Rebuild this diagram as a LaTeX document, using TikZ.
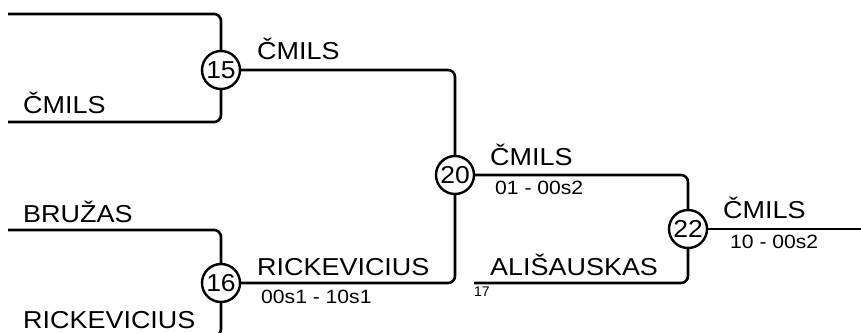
\documentclass[tikz,border=0pt]{standalone}
\usepackage{fontspec}
\setmainfont{Liberation Sans}
\newfontfamily\lblfont[FakeStretch=1.1]{Liberation Sans}
\newfontfamily\numfont[FakeStretch=1.08]{Liberation Sans}
\begin{document}
\begin{tikzpicture}[x=1pt,y=-1pt,
  wire/.style={line width=2.6pt,rounded corners=7pt},
  matchc/.style={circle,draw,line width=2.4pt,minimum size=38pt,inner sep=0pt,font=\numfont\fontsize{24.5}{24.5}\selectfont,fill=white},
  bigl/.style={anchor=base west,inner sep=0pt,font=\lblfont\fontsize{24.5}{25}\selectfont},
  smalll/.style={anchor=base west,inner sep=0pt,font=\lblfont\fontsize{19.2}{20}\selectfont},
  tinyl/.style={anchor=base west,inner sep=0pt,font=\fontsize{14}{14}\selectfont}]
\useasboundingbox (0,0) rectangle (861,332);
% match nodes
\node[matchc] (m15) at (221,70) {15};
\node[matchc] (m16) at (221,283) {16};
\node[matchc] (m20) at (455,175) {20};
\node[matchc] (m22) at (688,229) {22};
% free ends
\coordinate (a1) at (8,14);
\coordinate (a2) at (8,122);
\coordinate (b1) at (8,230);
\coordinate (b2) at (8,336);
\coordinate (c17) at (474,283);
\coordinate (out) at (861,229);
% connectors
\draw[wire] (a1) -| (m15);
\draw[wire] (a2) -| (m15);
\draw[wire] (b1) -| (m16);
\draw[wire] (b2) -| (m16);
\draw[wire] (m15) -| (m20);
\draw[wire] (m16) -| (m20);
\draw[wire] (m20) -| (m22);
\draw[wire] (c17) -| (m22);
\draw[wire] (m22) -- (out);
% labels
\node[bigl] (l1) at (23,113) {ČMILS};
\node[bigl] (l2) at (23,222) {BRUŽAS};
\node[bigl] (l3) at (23,328) {RICKEVICIUS};
\node[bigl] (l4) at (257,59) {ČMILS};
\node[bigl] (l5) at (257,275) {RICKEVICIUS};
\node[smalll] (s5) at (261,303) {00s1 - 10s1};
\node[bigl] (l6) at (490,165) {ČMILS};
\node[smalll] (s6) at (495,194) {01 - 00s2};
\node[bigl] (l7) at (490,275) {ALIŠAUSKAS};
\node[tinyl] (t17) at (474,296) {17};
\node[bigl] (l8) at (723,218) {ČMILS};
\node[smalll] (s8) at (730,248) {10 - 00s2};
\end{tikzpicture}
\end{document}
